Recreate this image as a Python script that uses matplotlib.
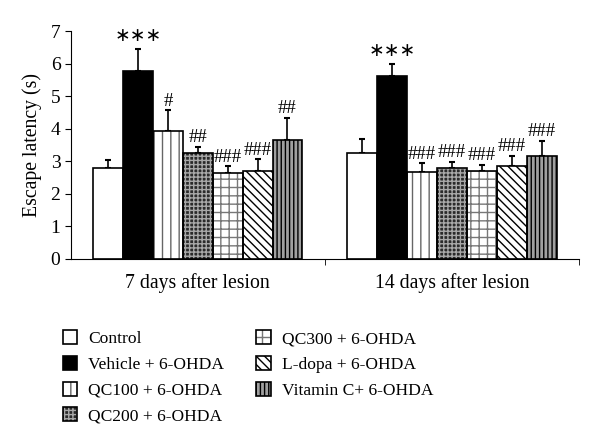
"""
escape latency bar chart, 7 and 14 days after lesion
"""
import matplotlib
matplotlib.use('Agg')
import matplotlib.pyplot as plt
import numpy as np

plt.rcParams['font.family'] = 'Liberation Serif'
plt.rcParams['hatch.linewidth'] = 1.0

# data
days = ['7 days after lesion', '14 days after lesion']
groups = ['Control', 'Vehicle + 6-OHDA', 'QC100 + 6-OHDA', 'QC200 + 6-OHDA',
          'QC300 + 6-OHDA', 'L-dopa + 6-OHDA', 'Vitamin C+ 6-OHDA']
day7 = [2.80, 5.78, 3.93, 3.24, 2.64, 2.71, 3.65]
day7Err = [0.24, 0.68, 0.64, 0.20, 0.21, 0.35, 0.68]
day14 = [3.24, 5.62, 2.67, 2.80, 2.71, 2.86, 3.15]
day14Err = [0.43, 0.38, 0.27, 0.18, 0.19, 0.30, 0.47]
day7Sig = ['', '***', '#', '##', '###', '###', '##']
day14Sig = ['', '***', '###', '###', '###', '###', '###']

# styles: facecolor, hatch, hatch colour
styles = [('white', '', 'black'),
          ('black', '', 'black'),
          ('white', '||', '#666666'),
          ('#2a2a2a', '++++', '#a8a8a8'),
          ('white', '++', '#777777'),
          ('white', '\\\\\\\\', 'black'),
          ('#a0a0a0', '||||', 'black')]

fig = plt.figure(figsize=(6, 4.44), dpi=100)
ax = fig.add_axes([0.118, 0.4167, 0.847, 0.5133])

nG = len(groups)
width = 0.823 / nG
xCat = np.arange(len(days))

vals = np.array([day7, day14])
errs = np.array([day7Err, day14Err])
sigs = [day7Sig, day14Sig]

handles = []
for j in range(nG):
    fc, hatch, hc = styles[j]
    xs = xCat - 0.823 / 2 + width * (j + 0.5)
    # hatched fill, hatch colour comes from edgecolor
    ax.bar(xs, vals[:, j], width, color=fc, edgecolor=hc, hatch=hatch, linewidth=0, zorder=2)
    # outline
    ax.bar(xs, vals[:, j], width, color='none', edgecolor='black', linewidth=1.2, zorder=3)
    ax.errorbar(xs, vals[:, j], yerr=[np.zeros(2), errs[:, j]], fmt='none',
                ecolor='black', elinewidth=1.2, capsize=2.5, capthick=1.5, zorder=1)
    for k in range(len(days)):
        s = sigs[k][j]
        if s:
            top = vals[k, j] + errs[k, j]
            if s == '***':
                ax.text(xs[k], top + 0.12, '∗∗∗', ha='center', va='bottom',
                        fontsize=13.5, family='DejaVu Sans')
            else:
                ax.text(xs[k], top + 0.02, s, ha='center', va='bottom', fontsize=13.5)
    p1 = plt.Rectangle((0, 0), 1, 1, facecolor=fc, edgecolor=hc, hatch=hatch, linewidth=0)
    p2 = plt.Rectangle((0, 0), 1, 1, facecolor='none', edgecolor='black', linewidth=1.2)
    handles.append((p1, p2))

ax.set_xlim(-0.5, 1.5)
ax.set_ylim(0, 7)
ax.set_yticks(range(8))
ax.set_xticks(xCat)
ax.set_xticklabels(days)
ax.set_xticks([0.5, 1.5], minor=True)
ax.tick_params(axis='x', which='major', length=0, pad=10, labelsize=14.2)
ax.tick_params(axis='x', which='minor', length=4, direction='out')
ax.tick_params(axis='y', length=4, direction='out', labelsize=14)
ax.spines['top'].set_visible(False)
ax.spines['right'].set_visible(False)
ax.set_ylabel('Escape latency (s)', fontsize=14.2, labelpad=6)

fig.legend(handles, groups, ncol=2, loc='upper left', bbox_to_anchor=(0.078, 0.292),
           frameon=False, fontsize=12.6, handlelength=0.85, handleheight=0.85,
           handletextpad=0.6, columnspacing=1.85, labelspacing=0.5)

plt.savefig('out.png', dpi=100)
